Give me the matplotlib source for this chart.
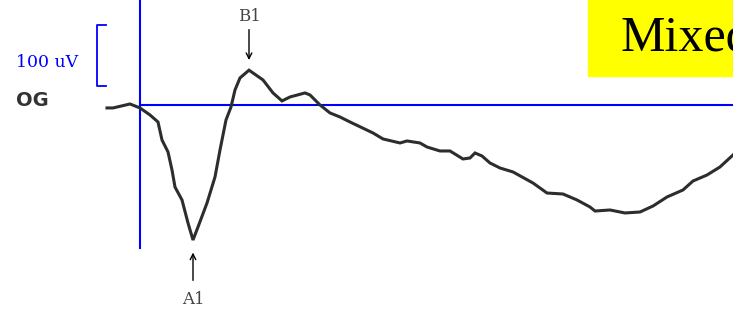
import matplotlib.pyplot as plt
from matplotlib.patches import Rectangle

# ERG trace, time in ms after flash, amplitude in uV
time_ms = [-8.25, -6.75, -2.5, 0, 2.5, 4.5, 5.5, 7, 8, 8.75, 10.5, 12, 13.25,
           14.5, 16.75, 18.75, 20, 21.5, 22.75, 23.75, 25, 27.25, 30.75, 33.25,
           35.5, 37.5, 41.25, 42.5, 45, 47.5, 50, 52.5, 58.25, 60.75, 65, 66.75,
           70, 71.75, 75, 77.5, 80.75, 82.5, 83.75, 85.5, 87.5, 90, 93.25, 98.25,
           101.75, 105.75, 109.25, 112.5, 113.75, 117.5, 121.25, 125, 128.25,
           131.75, 135.75, 138.25, 141.75, 145, 148.25]
amp_uv = [-4.9, -4.9, 1.6, -4.9, -16.4, -27.9, -57.4, -77, -106.6, -134.5,
          -155.7, -193.4, -221.3, -200, -160.7, -118, -73.8, -24.6, -3.3, 24.6,
          44.3, 57, 41, 19.7, 6.6, 13.1, 19.7, 16.4, 0, -13.1, -19.7, -27.9,
          -45.9, -55.7, -62.3, -59, -62.3, -68.9, -75.4, -75.4, -88.5, -86.9,
          -78.7, -83.6, -95.1, -103.3, -109.8, -127.9, -144.3, -145.9, -155.7,
          -167.2, -173.8, -172.1, -177, -175.4, -165.6, -150.8, -139.3, -124.6,
          -114.8, -101.6, -82]

# peaks
a1_t, a1_v = 13.25, -221.3
b1_t, b1_v = 27.25, 57

blue = "#0000ff"

fig = plt.figure(figsize=(7.33, 3.10), dpi=100)
ax = fig.add_axes([0, 0, 1, 1])
ax.set_xlim(-35, 148.25)
ax.set_ylim(-336, 172)
ax.axis("off")

# reference lines
ax.plot([0, 0], [-234, 172], color=blue, lw=1.5)
ax.plot([0, 148.25], [0, 0], color=blue, lw=1.5)

# 100 uV scale bracket
ax.plot([-8.5, -10.75, -10.75, -8.5], [131, 131, 31, 31], color=blue, lw=1.3)
ax.text(-23.3, 70, "100 uV", color=blue, fontsize=12.5, family="DejaVu Serif",
        ha="center", va="center")
ax.text(-26.8, 7, "OG", color="#333333", fontsize=14, weight="bold",
        ha="center", va="center")

# trace
ax.plot(time_ms, amp_uv, color="#2b2f2c", lw=2.2, solid_joinstyle="miter")

# peak markers
ax.annotate("", xy=(b1_t, b1_v + 12), xytext=(b1_t, 128),
            arrowprops=dict(arrowstyle="->", color="black", lw=1))
ax.text(b1_t, 145, "B1", fontsize=12, family="DejaVu Serif", color="#444444",
        ha="center", va="center")
ax.annotate("", xy=(a1_t, a1_v - 16), xytext=(a1_t, -292),
            arrowprops=dict(arrowstyle="->", color="black", lw=1))
ax.text(a1_t, -318, "A1", fontsize=12, family="DejaVu Serif", color="#444444",
        ha="center", va="center")

# yellow title box
ax.add_patch(Rectangle((112, 47.5), 60, 130, color="#ffff00", zorder=3))
ax.text(120, 88, "Mixed", fontsize=36, family="Liberation Serif",
        color="black", va="baseline", ha="left", zorder=4)

fig.savefig("out.png", dpi=100)
